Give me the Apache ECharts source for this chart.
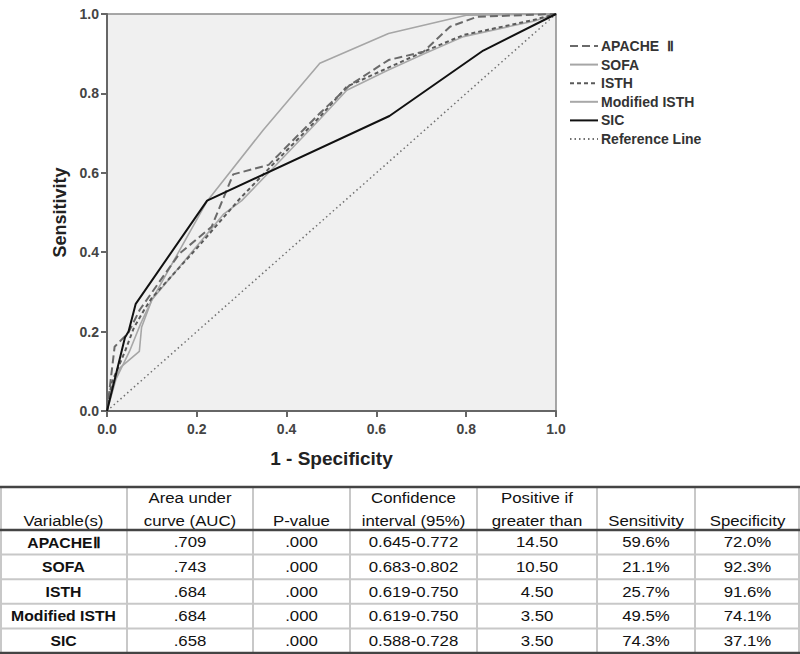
<!DOCTYPE html>
<html>
<head>
<meta charset="utf-8">
<script src="https://cdn.jsdelivr.net/npm/echarts@6/dist/echarts.min.js"></script>
<style>
html,body{margin:0;padding:0;background:#fff;}
#c{width:800px;height:654px;}
</style>
</head>
<body>
<div id="c"></div>
<script>
// ---- ROC curve data: [1 - Specificity, Sensitivity] ----
const apacheII = [[0,0],[0.017,0.162],[0.047,0.196],[0.073,0.255],[0.132,0.35],[0.162,0.397],[0.233,0.464],[0.281,0.596],[0.36,0.62],[0.474,0.75],[0.541,0.821],[0.627,0.884],[0.705,0.905],[0.764,0.968],[0.824,0.993],[1,1]];
const sofa = [[0,0],[0.01,0.06],[0.03,0.11],[0.072,0.15],[0.077,0.211],[0.1,0.28],[0.222,0.527],[0.348,0.708],[0.474,0.876],[0.627,0.951],[0.80,0.997],[1,1]];
const isth = [[0,0],[0.01,0.07],[0.04,0.15],[0.06,0.21],[0.084,0.257],[0.1,0.285],[0.2,0.41],[0.296,0.535],[0.36,0.61],[0.474,0.741],[0.534,0.817],[0.623,0.863],[0.705,0.905],[0.794,0.947],[0.95,0.985],[1,1]];
const modifiedIsth = [[0,0],[0.02,0.08],[0.05,0.15],[0.075,0.22],[0.1,0.28],[0.259,0.495],[0.3,0.53],[0.36,0.6],[0.474,0.735],[0.534,0.808],[0.623,0.857],[0.705,0.899],[0.794,0.943],[0.95,0.982],[1,1]];
const sic = [[0,0],[0.04,0.185],[0.048,0.2],[0.064,0.27],[0.223,0.53],[0.629,0.743],[0.838,0.908],[1,1]];
const referenceLine = [[0,0],[1,1]];

const seriesNames = ['APACHE  Ⅱ','SOFA','ISTH','Modified ISTH','SIC','Reference Line'];
const axisTicks = [0,0.2,0.4,0.6,0.8,1.0];

// ---- Table data ----
const tableHeaders = [['','Variable(s)'],['Area under','curve (AUC)'],['','P-value'],['Confidence','interval (95%)'],['Positive if','greater than'],['','Sensitivity'],['','Specificity']];
const tableVariables = ['APACHEⅡ','SOFA','ISTH','Modified ISTH','SIC'];
const tableAuc = ['.709','.743','.684','.684','.658'];
const tablePValue = ['.000','.000','.000','.000','.000'];
const tableCI = ['0.645-0.772','0.683-0.802','0.619-0.750','0.619-0.750','0.588-0.728'];
const tableCutoff = ['14.50','10.50','4.50','3.50','3.50'];
const tableSensitivity = ['59.6%','21.1%','25.7%','49.5%','74.3%'];
const tableSpecificity = ['72.0%','92.3%','91.6%','74.1%','37.1%'];

const FONT = '"Liberation Sans", Arial, Helvetica, sans-serif';

const chart = echarts.init(document.getElementById('c'), null, {renderer:'svg', width:800, height:654});

// ---- table graphics ----
const colEdges = [0,127,253,350,477,597,695,800];
const tableTop = 487, headerBottom = 530, rowH = 24.6;
const rows = tableVariables.map((v,i)=>[v,tableAuc[i],tablePValue[i],tableCI[i],tableCutoff[i],tableSensitivity[i],tableSpecificity[i]]);
const tableBottom = headerBottom + rowH*rows.length;
const g = [];
function hline(y,color,w){g.push({type:'line',shape:{x1:0,y1:y,x2:800,y2:y},style:{stroke:color,lineWidth:w},z:10});}
function vline(x){g.push({type:'line',shape:{x1:x,y1:tableTop,x2:x,y2:tableBottom},style:{stroke:'#c8c8c8',lineWidth:2},z:9});}
function txt(s,x,y,bold){g.push({type:'text',x:x,y:y,scaleX:bold?1.05:1.12,z:11,style:{text:s,x:0,y:0,align:'center',verticalAlign:'middle',fill:'#111',font:(bold?'bold ':'')+'15px '+FONT}});}
for(let i=1;i<colEdges.length-1;i++) vline(colEdges[i]);
vline(1); vline(799);
hline(tableTop,'#444',2.5);
hline(headerBottom,'#444',2.5);
for(let r=1;r<rows.length;r++) hline(headerBottom+rowH*r,'#c8c8c8',2);
hline(tableBottom,'#444',2.5);
tableHeaders.forEach((h,c)=>{
  const cx=(colEdges[c]+colEdges[c+1])/2;
  if(h[0]) txt(h[0],cx,498,false);
  txt(h[1],cx,521,false);
});
rows.forEach((row,r)=>{
  const cy=headerBottom+rowH*r+rowH/2;
  row.forEach((s,c)=>{
    const cx=(colEdges[c]+colEdges[c+1])/2;
    txt(s,cx,cy,c===0);
  });
});

function mk(name,data,color,width,type,z){
  return {name:name,type:'line',data:data,symbol:'none',showSymbol:false,z:z,
    lineStyle:{color:color,width:width,type:type},itemStyle:{color:color},emphasis:{disabled:true}};
}

chart.setOption({
  animation:false,
  backgroundColor:'#ffffff',
  grid:{left:107,right:244,top:14,bottom:243,show:true,backgroundColor:'#f0f0f0',borderColor:'#8a8a8a',borderWidth:1.5},
  legend:{orient:'vertical',left:569,top:39,padding:0,itemWidth:28,itemHeight:12,itemGap:4.6,
    itemStyle:{color:'rgba(0,0,0,0)',borderWidth:0,opacity:0},
    textStyle:{fontFamily:FONT,fontWeight:'bold',fontSize:14,color:'#333',lineHeight:12,padding:[0,0,0,-2]},
    data:seriesNames},
  xAxis:{type:'value',min:0,max:1,interval:0.2,
    name:'1 - Specificity',nameLocation:'middle',nameGap:38,
    nameTextStyle:{fontFamily:FONT,fontWeight:'bold',fontSize:19,color:'#222'},
    axisLine:{lineStyle:{color:'#666',width:2}},
    axisTick:{length:6,lineStyle:{color:'#666',width:2}},
    axisLabel:{margin:11,fontFamily:FONT,fontWeight:'bold',fontSize:14,color:'#444',formatter:v=>v.toFixed(1)},
    splitLine:{show:false}},
  yAxis:{type:'value',min:0,max:1,interval:0.2,
    name:'Sensitivity',nameLocation:'middle',nameGap:38,
    nameTextStyle:{fontFamily:FONT,fontWeight:'bold',fontSize:18,color:'#222'},
    axisLine:{lineStyle:{color:'#666',width:2}},
    axisTick:{length:6,lineStyle:{color:'#666',width:2}},
    axisLabel:{margin:8,fontFamily:FONT,fontWeight:'bold',fontSize:14,color:'#444',formatter:v=>v.toFixed(1)},
    splitLine:{show:false}},
  series:[
    mk(seriesNames[0],apacheII,'#6a6a6a',2,[8,4],5),
    mk(seriesNames[1],sofa,'#a6a6a6',1.6,'solid',3),
    mk(seriesNames[2],isth,'#5a5a5a',2,[4,3],4),
    mk(seriesNames[3],modifiedIsth,'#a8a8a8',1.6,'solid',2),
    mk(seriesNames[4],sic,'#111111',2,'solid',6),
    mk(seriesNames[5],referenceLine,'#707070',1.5,[1.5,3],1)
  ],
  graphic:g
});
</script>
</body>
</html>
